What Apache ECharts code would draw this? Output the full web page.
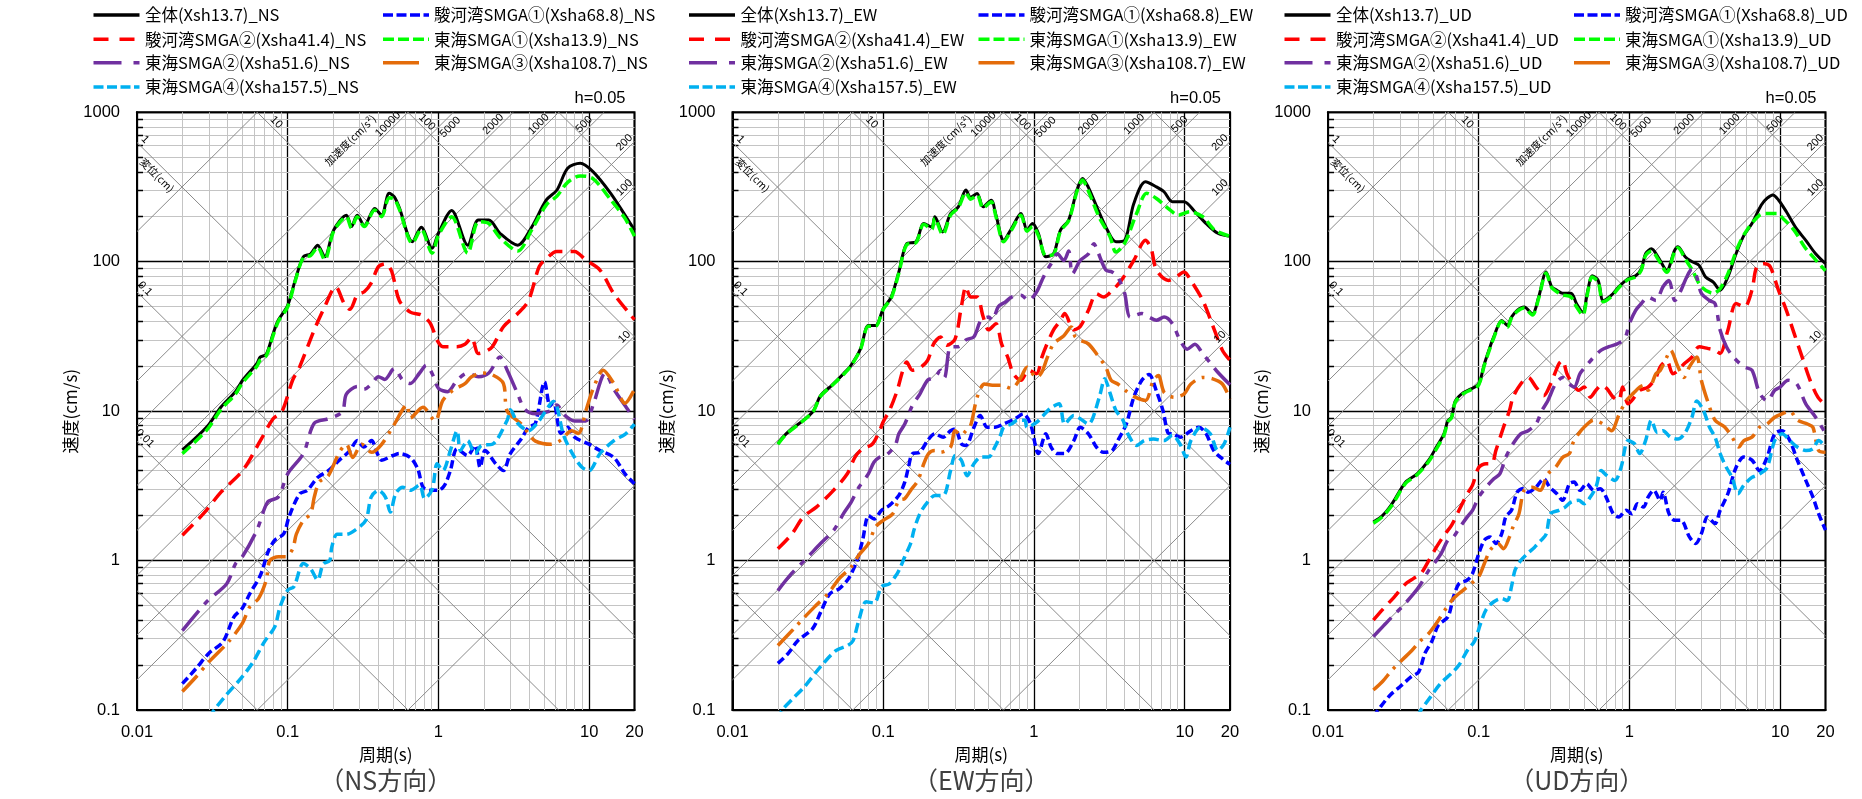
<!DOCTYPE html>
<html><head><meta charset="utf-8">
<script src="https://cdn.jsdelivr.net/npm/echarts@6/dist/echarts.min.js"></script>
<style>html,body{margin:0;padding:0;background:#fff}#c{width:1862px;height:799px}</style>
</head><body><div id="c"></div>
<script>
// ---------------- DATA ----------------
const panels = ['NS', 'EW', 'UD'];
const panelTitles = ['（NS方向）', '（EW方向）', '（UD方向）'];
const seriesNames = ['全体(Xsh13.7)', '駿河湾SMGA①(Xsha68.8)', '駿河湾SMGA②(Xsha41.4)', '東海SMGA①(Xsha13.9)', '東海SMGA②(Xsha51.6)', '東海SMGA③(Xsha108.7)', '東海SMGA④(Xsha157.5)'];
const xTickLabels = [0.01, 0.1, 1, 10, 20];
const yTickLabels = [0.1, 1, 10, 100, 1000];
const accelLines = [1, 10, 100, 200, 500, 1000, 2000, 5000, 10000, 100000];
const dispLines = [0.001, 0.01, 0.1, 1, 10, 100, 1000];
const accelLabels = [10000, 5000, 2000, 1000, 500, 200, 100, 10];
const dispLabels = [1, 0.1, 0.01, 10, 100];

// NS
const ns_total = [[0.02,5.5],[0.0291,7.85],[0.0362,10.7],[0.045,13.5],[0.0502,16.1],[0.0625,20.9],[0.0656,23],[0.072,24],[0.08,33],[0.0867,40.7],[0.1,51],[0.112,75],[0.127,108],[0.142,113],[0.158,129],[0.176,108],[0.202,163],[0.245,205],[0.265,172],[0.289,205],[0.322,175],[0.378,227],[0.42,205],[0.471,287],[0.51,272],[0.55,230],[0.672,136],[0.769,170],[0.907,123],[1.0,155],[1.224,220],[1.564,129],[1.84,190],[2.16,190],[2.56,155],[3.36,129],[4.18,172],[5.2,259],[6.12,302],[7.2,422],[8.73,456],[10.6,401],[13.9,287],[17.3,205],[20,163]];
const ns_suruga1 = [[0.02,0.15],[0.0247,0.19],[0.03,0.24],[0.0372,0.286],[0.044,0.42],[0.05,0.48],[0.056,0.6],[0.066,0.8],[0.074,1.14],[0.082,1.37],[0.094,1.51],[0.102,1.96],[0.12,2.8],[0.135,2.95],[0.158,3.6],[0.186,4.0],[0.22,4.7],[0.257,5.4],[0.29,6.35],[0.32,5.75],[0.36,6.35],[0.39,5.3],[0.42,4.7],[0.5,5.05],[0.55,5.2],[0.65,4.9],[0.73,4.1],[0.79,3.1],[0.88,2.95],[1.0,2.95],[1.1,3.2],[1.2,4.0],[1.33,5.6],[1.56,5.05],[1.75,5.9],[1.89,4.2],[2.04,5.45],[2.4,4.45],[2.7,4.0],[3.0,5.2],[3.54,6.5],[3.96,7.8],[4.4,8.3],[5.06,15.7],[5.5,10.8],[5.8,11.6],[6.5,7.1],[7.2,7.8],[8.0,6.7],[10,6.0],[11.8,5.45],[14.6,4.9],[17.3,3.8],[20,3.27]];
const ns_suruga2 = [[0.02,1.48],[0.0276,2.06],[0.0362,2.88],[0.0502,4.0],[0.066,6.37],[0.08,8.9],[0.0918,10],[0.1077,16.1],[0.12,19.8],[0.15,35],[0.176,50],[0.208,68],[0.238,52],[0.258,48],[0.29,60],[0.322,63],[0.358,72],[0.40,92.7],[0.446,97],[0.49,86],[0.55,55],[0.65,46],[0.77,44],[0.88,39],[0.98,29.9],[1.07,27],[1.33,27],[1.5,28],[1.66,31],[1.84,24.3],[2.04,25],[2.28,27],[2.7,36.7],[3.36,45],[3.96,55],[4.66,92.7],[5.2,105],[6.1,117],[8.0,117],[9.46,103],[11.8,88],[14.6,61],[19.2,43],[20,41]];
const ns_toukai1 = [[0.02,5.2],[0.0291,7.5],[0.0362,10.3],[0.045,13],[0.0502,15.5],[0.0625,20],[0.0656,22],[0.072,23.5],[0.08,32],[0.0867,40],[0.1,50],[0.112,74],[0.127,107],[0.142,110],[0.158,125],[0.176,103],[0.202,160],[0.245,200],[0.265,168],[0.289,200],[0.322,172],[0.378,222],[0.42,200],[0.471,268],[0.51,262],[0.55,225],[0.672,133],[0.769,165],[0.907,114],[1.0,150],[1.224,200],[1.564,114],[1.84,185],[2.16,180],[2.56,145],[3.36,118],[4.18,165],[5.2,240],[6.12,275],[7.2,340],[8.73,375],[10.6,360],[13.9,260],[17.3,195],[20,148]];
const ns_toukai2 = [[0.02,0.34],[0.029,0.53],[0.0394,0.70],[0.045,0.95],[0.05,1.06],[0.0625,1.6],[0.0737,2.47],[0.0866,2.66],[0.1,3.81],[0.127,5.2],[0.15,8.3],[0.186,8.9],[0.23,9.9],[0.245,13],[0.29,14.6],[0.32,14],[0.36,15.2],[0.4,17],[0.44,16.3],[0.51,19.3],[0.58,16.1],[0.65,15.3],[0.75,18],[0.83,20.3],[0.93,17],[1.0,14.2],[1.15,13.5],[1.33,16.1],[1.56,18],[1.84,17],[2.16,18],[2.56,23],[2.86,18.8],[3.36,13],[3.74,10.3],[4.4,9.6],[5.5,10],[6.1,11],[6.8,9.5],[8.0,8.6],[9.5,8.6],[10.6,10.9],[12.8,18],[14.6,14],[17.3,10.9],[20,8.8]];
const ns_toukai3 = [[0.02,0.133],[0.0247,0.167],[0.03,0.21],[0.0405,0.286],[0.05,0.38],[0.056,0.49],[0.064,0.557],[0.072,0.74],[0.076,1.0],[0.087,1.06],[0.097,1.06],[0.108,1.2],[0.114,1.5],[0.127,1.86],[0.142,2.06],[0.15,2.66],[0.162,3.35],[0.186,3.7],[0.22,5.3],[0.245,6.0],[0.27,4.9],[0.31,6.0],[0.36,5.3],[0.42,6.0],[0.5,7.9],[0.62,11],[0.65,9],[0.79,10.6],[0.95,8.6],[1.07,11.8],[1.26,13.9],[1.5,15.3],[1.66,17],[1.95,18],[2.28,17.5],[2.7,15.3],[2.86,10],[3.54,8.2],[3.96,7.1],[4.4,6.3],[5.6,6.0],[6.5,6.4],[7.65,7.4],[8.5,7.1],[9.5,10],[10.6,14],[12.4,18.8],[14.6,15.3],[17.3,11.3],[20,14]];
const ns_toukai4 = [[0.03,0.088],[0.0325,0.1],[0.0383,0.123],[0.05,0.167],[0.059,0.21],[0.07,0.286],[0.082,0.36],[0.089,0.49],[0.1,0.634],[0.11,0.67],[0.127,0.955],[0.142,0.88],[0.158,0.74],[0.172,0.95],[0.19,1.0],[0.196,1.23],[0.213,1.5],[0.245,1.5],[0.28,1.6],[0.33,1.86],[0.358,2.66],[0.4,2.95],[0.445,2.66],[0.48,2.11],[0.52,2.8],[0.58,3.1],[0.65,2.95],[0.75,3.2],[0.81,2.6],[0.91,3.0],[0.98,4.45],[1.07,4.0],[1.2,5.45],[1.33,7.4],[1.4,5.45],[1.56,6.35],[1.75,5.2],[1.93,5.9],[2.28,6.0],[2.86,8.7],[3.0,10.2],[3.36,8.3],[3.96,7.4],[4.6,8.5],[5.8,11.6],[6.8,6.8],[8.0,4.9],[9.0,4.2],[10,4.0],[11.8,5.2],[14.6,6.35],[17.3,7.0],[20,8.2]];

// EW
const ew_total = [[0.02,6.05],[0.0227,7.05],[0.0339,9.85],[0.0384,12.7],[0.0456,14.9],[0.0545,17.8],[0.061,20.2],[0.0708,26.2],[0.0797,37.5],[0.089,37.5],[0.1,48.5],[0.113,58],[0.127,85.5],[0.143,132],[0.165,136],[0.186,180],[0.21,171],[0.22,200],[0.248,158],[0.28,210],[0.315,233],[0.354,302],[0.38,270],[0.42,286],[0.46,233],[0.52,258],[0.56,205],[0.63,139],[0.71,167],[0.82,210],[0.9,163],[0.98,180],[1.07,155],[1.2,108],[1.35,113],[1.5,163],[1.7,190],[1.93,302],[2.1,361],[2.29,317],[2.64,227],[3.07,163],[3.5,136],[4.0,139],[4.6,245],[5.5,343],[6.5,317],[7.3,294],[8.3,252],[9.9,252],[11.7,216],[13.9,180],[16.6,155],[20,148]];
const ew_suruga1 = [[0.02,0.205],[0.0235,0.24],[0.027,0.29],[0.034,0.35],[0.0384,0.45],[0.0443,0.6],[0.0512,0.65],[0.059,0.76],[0.067,1.0],[0.073,1.37],[0.08,2.0],[0.087,1.9],[0.0976,2.17],[0.11,2.34],[0.127,2.73],[0.139,3.35],[0.147,4.2],[0.156,5.18],[0.175,5.3],[0.197,6.35],[0.22,7.05],[0.25,6.7],[0.28,7.4],[0.3,7.6],[0.33,6.05],[0.354,5.9],[0.4,7.8],[0.44,9.35],[0.49,7.8],[0.55,7.8],[0.63,8.2],[0.75,8.9],[0.85,9.6],[0.95,8.2],[1.07,5.2],[1.2,7.05],[1.3,5.75],[1.43,5.2],[1.6,5.2],[1.84,6.35],[2.03,7.8],[2.3,7.05],[2.6,5.75],[2.9,5.3],[3.3,5.45],[3.6,6.35],[4.1,8.2],[4.6,12.4],[5.2,16.1],[5.8,17.6],[6.5,13.6],[7.2,10],[7.8,7.1],[8.3,7.05],[9.4,6.7],[11,7.4],[12.4,7.8],[13.9,7.05],[15.6,5.45],[17.8,4.8],[20,4.4]];
const ew_suruga2 = [[0.02,1.2],[0.0247,1.5],[0.0295,1.96],[0.036,2.28],[0.0456,2.87],[0.0578,3.81],[0.065,4.93],[0.073,5.6],[0.0845,6.0],[0.0947,7.4],[0.1,8.5],[0.11,10.1],[0.124,13.8],[0.135,18.8],[0.143,21.3],[0.156,18.8],[0.175,19.5],[0.197,21.9],[0.216,28.2],[0.24,31.3],[0.264,27.6],[0.3,30.5],[0.33,50],[0.354,68],[0.38,58],[0.42,58],[0.46,43],[0.5,35],[0.56,38.5],[0.61,28.2],[0.67,23],[0.73,17.8],[0.82,16.1],[0.92,18.8],[1.04,17.8],[1.13,23],[1.2,27],[1.35,35],[1.5,40.5],[1.6,45],[1.84,35],[2.03,36.9],[2.3,47.3],[2.6,61],[2.9,58],[3.3,64],[3.8,75],[4.6,102],[5.5,139],[6.0,122],[6.5,88],[7.8,75],[8.8,79],[9.9,85.5],[11,75],[13.2,55],[15.2,38.5],[17.8,25.6],[20,21.9]];
const ew_toukai1 = [[0.02,6.0],[0.0227,7.0],[0.0339,9.8],[0.0384,12.6],[0.0456,14.8],[0.0545,17.6],[0.061,20],[0.0708,26],[0.0797,37],[0.089,37],[0.1,48],[0.113,57],[0.127,84],[0.143,130],[0.165,134],[0.186,178],[0.21,165],[0.22,195],[0.248,152],[0.28,205],[0.315,230],[0.354,290],[0.38,262],[0.42,280],[0.46,228],[0.52,252],[0.56,200],[0.63,136],[0.71,163],[0.82,205],[0.9,160],[0.98,172],[1.07,150],[1.2,110],[1.35,112],[1.5,160],[1.7,188],[1.93,295],[2.1,352],[2.29,300],[2.7,200],[3.2,147],[3.5,116],[4.0,133],[4.8,210],[5.6,287],[6.5,265],[7.8,227],[9.1,205],[10.8,216],[13.2,200],[15.8,163],[20,148]];
const ew_toukai2 = [[0.02,0.63],[0.0247,0.82],[0.03,1.0],[0.0384,1.3],[0.047,1.6],[0.0545,2.06],[0.0613,2.46],[0.069,3.1],[0.0797,3.8],[0.087,4.56],[0.095,4.93],[0.104,5.05],[0.12,5.9],[0.127,7.05],[0.139,8.2],[0.156,10.9],[0.175,13],[0.197,16.1],[0.22,16.8],[0.24,18.7],[0.255,16.8],[0.28,27],[0.315,27],[0.354,30],[0.4,31.5],[0.445,40.6],[0.5,42.6],[0.53,40.6],[0.58,50],[0.65,54],[0.71,58],[0.82,59.7],[0.92,55],[1.04,62.6],[1.13,75],[1.2,85],[1.3,97],[1.43,113],[1.58,102],[1.7,118],[1.8,83],[2.03,102],[2.3,113],[2.5,132],[2.64,118],[3.0,88],[3.3,85.5],[3.6,79],[4.0,61.5],[4.35,42.6],[5.2,45],[5.8,42.6],[6.5,40.6],[7.3,42.6],[8.3,38.5],[9.3,30],[10.4,26],[11.7,28],[13.2,24.2],[14.8,21],[16.6,18.2],[20,15]];
const ew_toukai3 = [[0.02,0.27],[0.0262,0.36],[0.0302,0.42],[0.035,0.49],[0.043,0.6],[0.0512,0.76],[0.061,0.9],[0.069,1.09],[0.0797,1.3],[0.089,1.68],[0.1,1.86],[0.116,2.06],[0.127,2.53],[0.139,2.6],[0.152,2.95],[0.17,3.44],[0.186,4.45],[0.2,5.2],[0.22,5.45],[0.24,5.3],[0.28,5.75],[0.3,7.4],[0.33,6.9],[0.354,7.4],[0.38,8.0],[0.42,12.4],[0.47,15.2],[0.53,14.9],[0.61,14.9],[0.71,14.2],[0.82,16.8],[0.9,19.7],[1.04,16.8],[1.13,18.3],[1.23,23],[1.35,28.2],[1.58,32],[1.77,36.6],[1.88,31.4],[2.03,29.8],[2.3,28.2],[2.6,24.2],[3.0,19.7],[3.25,16.1],[3.6,15.2],[4.1,13.6],[4.7,12.4],[5.5,11.8],[6.2,16.1],[6.7,17.3],[7.3,13.4],[8.5,12.4],[9.9,13],[11,15.2],[13.2,16.8],[15.2,16.5],[17.8,15.2],[20,12]];
const ew_toukai4 = [[0.02,0.085],[0.0214,0.1],[0.0247,0.117],[0.03,0.143],[0.0384,0.195],[0.0485,0.25],[0.058,0.27],[0.063,0.29],[0.069,0.4],[0.077,0.53],[0.087,0.52],[0.0976,0.67],[0.11,0.7],[0.124,0.82],[0.13,0.9],[0.139,1.06],[0.152,1.3],[0.16,1.6],[0.175,2.06],[0.197,2.46],[0.22,2.73],[0.25,2.73],[0.28,4.0],[0.3,5.05],[0.33,4.7],[0.36,3.7],[0.4,4.45],[0.445,4.93],[0.5,4.93],[0.55,5.75],[0.6,6.9],[0.63,7.8],[0.71,8.2],[0.78,8.7],[0.87,8.7],[0.9,7.8],[1.04,8.4],[1.28,10.4],[1.47,11.2],[1.6,8.2],[1.84,9.35],[2.03,8.9],[2.3,8.2],[2.45,8.9],[2.75,13],[2.95,16.5],[3.2,13.2],[3.5,10.1],[3.9,8.7],[4.2,7.05],[4.8,5.9],[5.4,6.35],[6.2,6.5],[7.3,6.35],[8.3,6.9],[9.3,6.05],[10.2,4.93],[11,6.35],[12.8,7.8],[14.8,7.05],[16.6,5.45],[18.3,6.05],[20,7.8]];

// UD
const ud_total = [[0.02,1.81],[0.023,2.0],[0.0266,2.4],[0.0328,3.36],[0.039,3.8],[0.0466,4.7],[0.0524,5.75],[0.0588,7.05],[0.0625,8.66],[0.066,9.1],[0.07,11.7],[0.079,13.3],[0.089,14.1],[0.1,15.2],[0.109,20.7],[0.119,27],[0.126,31.5],[0.142,40.5],[0.155,37.5],[0.165,42.6],[0.18,47.3],[0.2,49.8],[0.227,44.9],[0.25,58],[0.28,85.5],[0.305,68],[0.33,64.5],[0.36,61.5],[0.41,61.5],[0.445,52.5],[0.49,46],[0.53,64.5],[0.565,80.5],[0.62,75],[0.67,55],[0.76,59.7],[0.85,68],[0.98,77],[1.1,80.5],[1.2,89.5],[1.28,113],[1.4,122],[1.55,107.5],[1.77,87.5],[1.99,118.5],[2.1,126],[2.35,107.5],[2.63,99.5],[2.9,94.5],[3.2,79],[3.6,73],[4.0,64.5],[4.5,79],[5.1,113],[5.75,150],[6.5,180],[7.5,240],[8.2,266],[8.95,280],[9.75,259],[11,216],[12.8,167],[14.8,139],[17.2,113],[20,97]];
const ud_suruga1 = [[0.02,0.09],[0.0223,0.105],[0.0259,0.126],[0.03,0.143],[0.0357,0.167],[0.04,0.18],[0.044,0.24],[0.049,0.29],[0.054,0.37],[0.0625,0.42],[0.068,0.57],[0.074,0.7],[0.084,0.74],[0.091,0.82],[0.1,1.11],[0.109,1.37],[0.119,1.44],[0.13,1.3],[0.142,1.51],[0.151,1.96],[0.165,2.17],[0.18,2.87],[0.196,3.03],[0.213,2.87],[0.24,3.1],[0.27,3.53],[0.296,3.1],[0.33,2.8],[0.36,2.53],[0.4,3.27],[0.43,3.35],[0.47,2.95],[0.52,3.27],[0.58,2.95],[0.64,3.03],[0.7,2.66],[0.78,2.06],[0.85,1.96],[0.95,2.17],[1.04,2.06],[1.13,2.4],[1.24,2.28],[1.33,2.66],[1.45,2.95],[1.6,2.53],[1.67,2.87],[1.83,2.06],[2.0,1.86],[2.2,1.86],[2.5,1.44],[2.75,1.3],[3.0,1.51],[3.3,1.96],[3.7,1.77],[4.0,2.17],[4.5,2.8],[5.1,4.2],[5.75,4.93],[6.5,4.7],[7.3,4.0],[8.2,4.93],[9.2,7.05],[10.3,7.4],[11.6,6.35],[13,4.7],[14.8,3.44],[16.5,2.66],[18,2.06],[20,1.6]];
const ud_suruga2 = [[0.02,0.4],[0.023,0.47],[0.0275,0.57],[0.0328,0.7],[0.037,0.76],[0.0414,0.82],[0.0466,1.0],[0.0524,1.23],[0.059,1.48],[0.066,1.72],[0.074,2.17],[0.084,2.8],[0.091,3.2],[0.1,4.2],[0.112,4.45],[0.122,4.45],[0.13,5.45],[0.146,7.8],[0.16,10.1],[0.169,12.4],[0.19,15.2],[0.213,16.8],[0.24,14.5],[0.27,12.7],[0.3,15.2],[0.34,20.7],[0.36,21.8],[0.385,17.8],[0.42,15.2],[0.46,13.8],[0.5,14.5],[0.55,12.4],[0.6,13.8],[0.65,14.9],[0.71,14.1],[0.78,12.4],[0.85,11.8],[0.9,14.5],[0.98,11.2],[1.08,12.4],[1.17,13.8],[1.33,14.5],[1.5,16.8],[1.6,19.8],[1.77,21.8],[1.94,17.8],[2.1,18.7],[2.3,20.7],[2.6,23],[2.9,27],[3.3,26.3],[3.7,25.6],[4.0,24.3],[4.5,34.8],[5.1,52.5],[5.8,49.8],[6.5,64.5],[7.0,92.5],[7.9,97],[8.6,92.5],[9.75,64.5],[11,47.3],[12.4,33],[14,23],[15.8,16.1],[17.8,12.4],[20,11]];
const ud_toukai1 = [[0.02,1.78],[0.023,1.97],[0.0266,2.35],[0.0328,3.3],[0.039,3.75],[0.0466,4.6],[0.0524,5.6],[0.0588,6.9],[0.0625,8.5],[0.066,9.0],[0.07,11.5],[0.079,13.1],[0.089,13.9],[0.1,15],[0.109,20.3],[0.119,26.5],[0.126,31],[0.142,40],[0.155,36.5],[0.165,42],[0.18,46.5],[0.2,49],[0.227,44],[0.25,57],[0.28,84],[0.305,67],[0.33,63],[0.36,60],[0.41,58],[0.445,50],[0.49,44],[0.53,63],[0.565,79],[0.62,73],[0.67,54],[0.76,58.5],[0.85,67],[0.98,76],[1.1,79],[1.2,88],[1.28,110],[1.4,118],[1.55,104],[1.77,85],[1.99,116],[2.1,124],[2.35,104],[2.63,87],[3.0,68],[3.6,61.5],[4.0,66],[4.5,83],[5.25,126],[6.0,162],[7.3,205],[8.2,210],[9.5,210],[10.7,190],[12.4,162],[14.5,126],[17.2,103],[20,87]];
const ud_toukai2 = [[0.02,0.31],[0.023,0.36],[0.0266,0.42],[0.031,0.49],[0.037,0.6],[0.0414,0.7],[0.0466,0.86],[0.0524,1.0],[0.057,1.14],[0.0625,1.37],[0.068,1.44],[0.074,1.64],[0.084,1.96],[0.091,2.17],[0.1,2.66],[0.112,3.1],[0.126,3.53],[0.138,3.8],[0.151,4.9],[0.169,6.05],[0.19,7.05],[0.213,7.4],[0.24,8.2],[0.263,10.1],[0.287,11.7],[0.323,15.2],[0.36,16.8],[0.4,15.2],[0.43,14.5],[0.47,17.8],[0.53,20.7],[0.58,23],[0.65,25.6],[0.73,27],[0.83,28.2],[0.93,30.5],[1.0,38.5],[1.1,47.3],[1.2,52.5],[1.33,58],[1.5,55],[1.67,68],[1.83,75],[2.0,55],[2.2,64.5],[2.4,79],[2.6,89.5],[2.8,79],[3.0,61.5],[3.4,55],[3.7,52.5],[4.0,34.8],[4.4,27],[4.9,23],[5.75,19.8],[6.5,18.8],[7.3,13.2],[8.2,11.7],[9.2,13.8],[10.0,14.5],[11.3,16.1],[12.9,15.2],[14.8,11.2],[17.2,9.1],[20,7.1]];
const ud_toukai3 = [[0.02,0.136],[0.023,0.155],[0.0266,0.185],[0.031,0.216],[0.036,0.25],[0.041,0.29],[0.0466,0.325],[0.0524,0.38],[0.06,0.47],[0.068,0.557],[0.079,0.634],[0.089,0.7],[0.1,0.78],[0.109,0.955],[0.119,1.17],[0.134,1.3],[0.146,1.2],[0.16,1.44],[0.169,1.68],[0.185,2.06],[0.2,2.95],[0.227,3.1],[0.255,2.95],[0.287,3.8],[0.323,4.2],[0.36,4.9],[0.4,5.2],[0.42,6.05],[0.46,7.05],[0.5,7.8],[0.58,8.7],[0.67,8.2],[0.76,7.4],[0.85,9.4],[0.95,11.7],[1.04,12.9],[1.17,14.5],[1.25,14.9],[1.33,13.8],[1.5,17.8],[1.6,18.7],[1.77,23],[1.87,25.6],[2.1,19.8],[2.3,16.8],[2.5,19.8],[2.8,23],[3.0,16.1],[3.3,11.7],[3.7,8.7],[4.3,7.8],[4.8,6.7],[5.3,5.75],[5.75,6.35],[6.5,6.7],[7.3,7.8],[8.2,8.2],[9.2,9.1],[10.3,9.6],[11.6,10],[13,8.7],[15.2,8.2],[16.5,7.8],[18,5.45],[20,5.3]];
const ud_toukai4 = [[0.039,0.09],[0.0414,0.1],[0.0478,0.122],[0.0556,0.15],[0.066,0.176],[0.074,0.2],[0.084,0.25],[0.094,0.29],[0.103,0.38],[0.112,0.47],[0.126,0.53],[0.142,0.557],[0.155,0.54],[0.165,0.67],[0.174,0.86],[0.19,1.0],[0.208,1.1],[0.235,1.23],[0.26,1.37],[0.28,1.5],[0.3,2.06],[0.34,2.17],[0.375,2.28],[0.41,2.46],[0.46,2.53],[0.5,2.4],[0.55,2.66],[0.6,3.1],[0.65,4.0],[0.71,3.7],[0.8,3.44],[0.88,4.2],[0.98,6.35],[1.08,6.05],[1.17,5.2],[1.28,6.35],[1.4,8.7],[1.53,7.2],[1.67,7.4],[1.87,6.7],[2.1,6.5],[2.35,7.2],[2.6,9.1],[2.8,11.7],[3.1,10.1],[3.4,7.8],[3.7,6.7],[4.0,5.2],[4.4,4.2],[4.8,3.6],[5.25,2.8],[5.75,3.2],[6.5,3.6],[7.3,3.8],[8.2,4.2],[9.2,6.35],[10.3,7.05],[11.6,6.35],[13,5.75],[14.8,5.45],[16.5,5.6],[18,6.35],[20,5.75]];

const panelData = [
  [ns_total, ns_suruga1, ns_suruga2, ns_toukai1, ns_toukai2, ns_toukai3, ns_toukai4],
  [ew_total, ew_suruga1, ew_suruga2, ew_toukai1, ew_toukai2, ew_toukai3, ew_toukai4],
  [ud_total, ud_suruga1, ud_suruga2, ud_toukai1, ud_toukai2, ud_toukai3, ud_toukai4]
];

// ---------------- STYLE / LAYOUT ----------------
const COLORS = ['#000000', '#0000FF', '#FF0000', '#00FF00', '#7030A0', '#E46C0A', '#00B0F0'];
const DASHES = ['solid', [8, 4], [15, 8], [11, 5], [26, 8, 6, 8], [22, 7, 3, 7], [10, 5]];
const LEGEND_DASHES = [null, [10, 3.5], [15, 11], [11, 4], [28, 12, 6, 12], [36, 10, 3, 10], [10, 3.5]];
const WIDTHS = [3, 3.5, 3.5, 3.5, 3.5, 3.5, 3.5];
const GRID_LEFT = [137, 732.5, 1328];
const GRID_TOP = 112.3, GRID_W = 497.5, GRID_H = 597.7;
const T_MIN = 0.01, T_MAX = 20, V_MIN = 0.1, V_MAX = 1000;
const TWO_PI = 2 * Math.PI;
const NUM_FONT = '"Liberation Sans", Arial, sans-serif';
const JP_FONT = '"Noto Sans CJK JP", "Noto Sans", sans-serif';
const LEGEND_ROWS_Y = [15, 39.3, 62.7, 87];
const LEGEND_COL1 = [0, 2, 4, 6], LEGEND_COL2 = [1, 3, 5];

function fmt(v) { return String(+(+v).toPrecision(6)); }

function diagSegment(kind, val) {
  const lt0 = Math.log10(T_MIN), lt1 = Math.log10(T_MAX), lv0 = Math.log10(V_MIN), lv1 = Math.log10(V_MAX);
  let s, c;
  if (kind === 'A') { s = 1; c = Math.log10(val / TWO_PI); } else { s = -1; c = Math.log10(TWO_PI * val); }
  const a = (lv0 - c) / s, b = (lv1 - c) / s;
  const lo = Math.max(lt0, Math.min(a, b)), hi = Math.min(lt1, Math.max(a, b));
  if (hi <= lo) return null;
  return [[Math.pow(10, lo), Math.pow(10, s * lo + c)], [Math.pow(10, hi), Math.pow(10, s * hi + c)]];
}

const minorT = [], minorV = [];
for (let n = -2; n <= 1; n++) for (let k = 2; k <= 9; k++) { const t = k * Math.pow(10, n); if (t < T_MAX) minorT.push(t); }
for (let n = -1; n <= 2; n++) for (let k = 2; k <= 9; k++) minorV.push(k * Math.pow(10, n));

const grids = [], xAxes = [], yAxes = [], series = [];
panels.forEach((p, gi) => {
  grids.push({ left: GRID_LEFT[gi], top: GRID_TOP, width: GRID_W, height: GRID_H, show: true, borderColor: '#000', borderWidth: 2, backgroundColor: 'transparent', containLabel: false, outerBoundsMode: 'none' });
  xAxes.push({
    type: 'log', logBase: 10, gridIndex: gi, min: T_MIN, max: T_MAX,
    name: '周期(s)', nameLocation: 'middle', nameGap: 33,
    nameTextStyle: { fontFamily: JP_FONT, fontSize: 17, color: '#000' },
    axisLine: { show: true, lineStyle: { color: '#000', width: 2 } },
    axisTick: { show: false },
    axisLabel: { show: true, margin: 14, color: '#000', fontFamily: NUM_FONT, fontSize: 16.5, showMinLabel: true, showMaxLabel: true, formatter: fmt },
    splitLine: { show: true, lineStyle: { color: '#000', width: 1.3 } },
    minorTick: { show: false }, minorSplitLine: { show: false }
  });
  yAxes.push({
    type: 'log', logBase: 10, gridIndex: gi, min: V_MIN, max: V_MAX,
    name: '速度(cm/s)', nameLocation: 'middle', nameGap: 55, nameRotate: 90,
    nameTextStyle: { fontFamily: JP_FONT, fontSize: 17, color: '#000' },
    axisLine: { show: true, lineStyle: { color: '#000', width: 2 } },
    axisTick: { show: false },
    axisLabel: { show: true, margin: 17, color: '#000', fontFamily: NUM_FONT, fontSize: 16.5, showMinLabel: true, showMaxLabel: true, formatter: fmt },
    splitLine: { show: true, lineStyle: { color: '#000', width: 1.3 } }
  });
  const minorSegs = [];
  minorT.forEach(t => minorSegs.push({ coords: [[t, V_MIN], [t, V_MAX]] }));
  minorV.forEach(v => minorSegs.push({ coords: [[T_MIN, v], [T_MAX, v]] }));
  series.push({ type: 'lines', coordinateSystem: 'cartesian2d', xAxisIndex: gi, yAxisIndex: gi, silent: true, z: 1, animation: false,
    lineStyle: { color: '#c4c4c4', width: 1, opacity: 1, curveness: 0 }, data: minorSegs });
  const tickLen = Math.pow(10, Math.log10(T_MIN) + 6 / 150.6);
  series.push({ type: 'lines', coordinateSystem: 'cartesian2d', xAxisIndex: gi, yAxisIndex: gi, silent: true, z: 2, animation: false,
    lineStyle: { color: '#000', width: 1.3, opacity: 1, curveness: 0 }, data: minorV.map(v => ({ coords: [[T_MIN, v], [tickLen, v]] })) });
  const diag = [];
  accelLines.forEach(a => { const s = diagSegment('A', a); if (s) diag.push({ coords: s }); });
  dispLines.forEach(d => { const s = diagSegment('D', d); if (s) diag.push({ coords: s }); });
  series.push({ type: 'lines', coordinateSystem: 'cartesian2d', xAxisIndex: gi, yAxisIndex: gi, silent: true, z: 2, animation: false,
    lineStyle: { color: '#8a8a8a', width: 1, opacity: 1, curveness: 0 }, data: diag });
  panelData[gi].forEach((arr, si) => {
    series.push({
      type: 'line', name: seriesNames[si] + '_' + p, data: arr, xAxisIndex: gi, yAxisIndex: gi,
      symbol: 'none', showSymbol: false, smooth: 0.3, clip: true, z: 5 + si, animation: false, silent: true,
      lineStyle: { color: COLORS[si], width: WIDTHS[si], type: DASHES[si], cap: 'butt', join: 'round' },
      itemStyle: { color: COLORS[si] }
    });
  });
});

const chart = echarts.init(document.getElementById('c'), null, { renderer: 'canvas' });
chart.setOption({
  backgroundColor: '#ffffff', animation: false,
  grid: grids, xAxis: xAxes, yAxis: yAxes, series: series
});

// ---------------- LABELS & LEGEND ----------------
function txt(x, y, text, font, rot, align, color) {
  return { type: 'text', x: x, y: y, rotation: rot || 0, silent: true, z: 100,
    style: { text: text, font: font, fill: color || '#000', textAlign: align || 'center', textVerticalAlign: 'middle', align: align || 'center', verticalAlign: 'middle' } };
}
function legendLine(x1, x2, y, si) {
  const st = { stroke: COLORS[si], lineWidth: 3.5, lineCap: 'butt' };
  if (LEGEND_DASHES[si]) st.lineDash = LEGEND_DASHES[si];
  return { type: 'line', silent: true, z: 100, shape: { x1: x1, y1: y, x2: x2, y2: y }, style: st };
}
const ACCEL_OFFSETS = { 5000: [-3, 15] };
const gfx = [];
panels.forEach((p, gi) => {
  const px = (t, v) => chart.convertToPixel({ gridIndex: gi }, [t, v]);
  const smallFont = '11px ' + NUM_FONT;
  accelLabels.forEach(a => {
    const tTop = V_MAX * TWO_PI / a;
    let pt, off;
    if (tTop <= T_MAX) { pt = px(tTop, V_MAX); off = ACCEL_OFFSETS[a] || [-20, 12]; }
    else { pt = px(T_MAX, a * T_MAX / TWO_PI); off = [-10, 1]; }
    gfx.push(txt(pt[0] + off[0], pt[1] + off[1], String(a), smallFont, Math.PI / 4));
  });
  dispLabels.forEach(d => {
    const vLeft = TWO_PI * d / T_MIN;
    let pt, off;
    if (vLeft <= V_MAX) { pt = px(T_MIN, vLeft); off = [8, -3]; }
    else { pt = px(TWO_PI * d / V_MAX, V_MAX); off = [19, 10]; }
    gfx.push(txt(pt[0] + off[0], pt[1] + off[1], String(d), smallFont, -Math.PI / 4));
  });
  const pd = px(0.0136, 380);
  gfx.push(txt(pd[0], pd[1], '変位(cm)', '10.5px ' + JP_FONT, -Math.PI / 4));
  const pa = px(0.26, 650);
  gfx.push(txt(pa[0], pa[1], '加速度(cm/s²)', '10.5px ' + JP_FONT, Math.PI / 4));
  const tl = px(T_MIN, V_MAX), tr = px(T_MAX, V_MAX), bl = px(T_MIN, V_MIN);
  gfx.push(txt(tr[0] - 9, tr[1] - 14, 'h=0.05', '16.5px ' + NUM_FONT, 0, 'right'));
  gfx.push(txt((tl[0] + tr[0]) / 2, bl[1] + 70, panelTitles[gi], '25px ' + JP_FONT, 0, 'center', '#404040'));
  const L = tl[0];
  LEGEND_COL1.forEach((si, r) => {
    gfx.push(legendLine(L - 43.5, L + 2.5, LEGEND_ROWS_Y[r], si));
    gfx.push(txt(L + 8, LEGEND_ROWS_Y[r], seriesNames[si] + '_' + p, '16.5px ' + JP_FONT, 0, 'left'));
  });
  LEGEND_COL2.forEach((si, r) => {
    gfx.push(legendLine(L + 246, L + 292, LEGEND_ROWS_Y[r], si));
    gfx.push(txt(L + 297, LEGEND_ROWS_Y[r], seriesNames[si] + '_' + p, '16.5px ' + JP_FONT, 0, 'left'));
  });
});
chart.setOption({ graphic: gfx });
</script>
</body></html>
